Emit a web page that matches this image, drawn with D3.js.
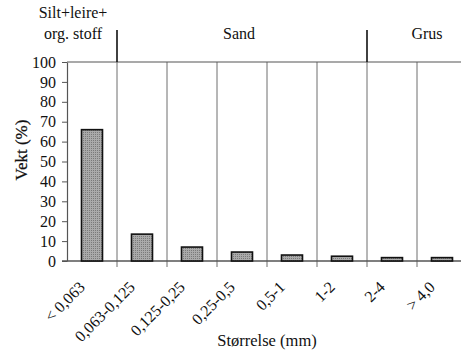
<!DOCTYPE html>
<html>
<head>
<meta charset="utf-8">
<script src="https://cdn.jsdelivr.net/npm/d3@7"></script>
<style>
  body { margin: 0; background: #fff; }
  svg { display: block; }
  svg text { font-family: "Liberation Serif", "Times New Roman", "DejaVu Serif", serif !important; }
</style>
</head>
<body>
<svg id="drawing_region"></svg>
<script>
// data
const categories = ['< 0,063', '0,063-0,125', '0,125-0,25', '0,25-0,5', '0,5-1', '1-2', '2-4', '> 4,0'];
const values = [66, 13.5, 7, 4.5, 3, 2.4, 1.7, 1.7];
const yTicks = [0, 10, 20, 30, 40, 50, 60, 70, 80, 90, 100];
const groupNames = [['Silt+leire+', 'org. stoff'], ['Sand'], ['Grus']];
const groupStart = [0, 1, 6];   // first category index of each group
const groupEnd = [0, 5, 7];     // last category index of each group

const config = {
    width: 461,
    height: 353,
    margin: {top: 62, right: -6, bottom: 92, left: 67},
    xlabel: 'Størrelse (mm)',
    ylabel: 'Vekt (%)'
};

const svg = d3.select('#drawing_region')
    .attr('width', config.width)
    .attr('height', config.height);

const inner_width = config.width - config.margin.left - config.margin.right;
const inner_height = config.height - config.margin.top - config.margin.bottom;

const chart = svg.append('g')
    .attr('transform', `translate(${config.margin.left}, ${config.margin.top})`);

const xscale = d3.scaleBand()
    .domain(categories)
    .range([0, inner_width])
    .padding(0);

const yscale = d3.scaleLinear()
    .domain([0, 100])
    .range([inner_height, 0]);

const bw = xscale.bandwidth();
const bar_w = bw * 0.42;

// vertical lines between the size classes
chart.selectAll('.vline')
    .data(categories.slice(1))
    .enter()
    .append('line')
    .attr('x1', d => xscale(d))
    .attr('x2', d => xscale(d))
    .attr('y1', 0)
    .attr('y2', inner_height + 6)
    .attr('stroke', '#6e6e6e')
    .attr('stroke-width', 1);

// top frame line
chart.append('line')
    .attr('x1', 0).attr('x2', inner_width)
    .attr('y1', yscale(100)).attr('y2', yscale(100))
    .attr('stroke', '#555').attr('stroke-width', 1.2);

// y axis
const yaxis = d3.axisLeft(yscale)
    .tickValues(yTicks)
    .tickSize(5)
    .tickSizeOuter(0);

const yaxis_group = chart.append('g').call(yaxis);
yaxis_group.select('.domain').attr('stroke', '#555').attr('stroke-width', 1.2);
yaxis_group.selectAll('.tick line').attr('stroke', '#555');
yaxis_group.selectAll('.tick text')
    .attr('x', -11)
    .style('font-size', '16px')
    .attr('fill', '#111');

// baseline
chart.append('line')
    .attr('x1', -5).attr('x2', inner_width)
    .attr('y1', yscale(0)).attr('y2', yscale(0))
    .attr('stroke', '#555').attr('stroke-width', 1.4);

// dotted grey fill like the print
const defs = svg.append('defs');
const pat = defs.append('pattern')
    .attr('id', 'dots')
    .attr('width', 2).attr('height', 2)
    .attr('patternUnits', 'userSpaceOnUse');
pat.append('rect').attr('width', 2).attr('height', 2).attr('fill', '#aaaaaa');
pat.append('rect').attr('width', 1).attr('height', 1).attr('fill', '#7a7a7a');

// bars
chart.selectAll('.bar')
    .data(values)
    .enter()
    .append('rect')
    .attr('class', 'bar')
    .attr('x', (d, i) => xscale(categories[i]) + (bw - bar_w) / 2)
    .attr('y', d => yscale(d))
    .attr('width', bar_w)
    .attr('height', d => inner_height - yscale(d))
    .attr('fill', 'url(#dots)')
    .attr('stroke', '#111')
    .attr('stroke-width', 1.6);

// x tick labels, rotated
chart.selectAll('.xlab')
    .data(categories)
    .enter()
    .append('text')
    .attr('text-anchor', 'end')
    .attr('transform', d => `translate(${xscale(d) + bw / 2 - 6}, ${inner_height + 27}) rotate(-45)`)
    .style('font-size', '16px')
    .attr('fill', '#111')
    .text(d => d);

// group dividers above the plot
const dividers = groupStart.slice(1).map(i => xscale(categories[i]));
chart.selectAll('.gdiv')
    .data(dividers)
    .enter()
    .append('line')
    .attr('x1', d => d).attr('x2', d => d)
    .attr('y1', -32).attr('y2', 0)
    .attr('stroke', '#111')
    .attr('stroke-width', 1.6);

// group names
const groupShift = [-19, -3, 10];
groupNames.forEach((lines, g) => {
    const x0 = xscale(categories[groupStart[g]]);
    const x1 = xscale(categories[groupEnd[g]]) + bw;
    const cx = (x0 + x1) / 2 + groupShift[g];
    lines.forEach((t, k) => {
        chart.append('text')
            .attr('x', cx)
            .attr('y', -23 - (lines.length - 1 - k) * 21)
            .attr('text-anchor', 'middle')
            .style('font-size', '16px')
            .attr('fill', '#111')
            .text(t);
    });
});

// axis titles
svg.append('text')
    .attr('x', config.margin.left + 200)
    .attr('y', 346)
    .attr('text-anchor', 'middle')
    .style('font-size', '16.5px')
    .attr('fill', '#111')
    .text(config.xlabel);

svg.append('text')
    .attr('transform', `translate(27, ${config.margin.top + 88}) rotate(-90)`)
    .attr('text-anchor', 'middle')
    .style('font-size', '17px')
    .attr('fill', '#111')
    .attr('stroke', '#111')
    .attr('stroke-width', 0.25)
    .text(config.ylabel);
</script>
</body>
</html>
